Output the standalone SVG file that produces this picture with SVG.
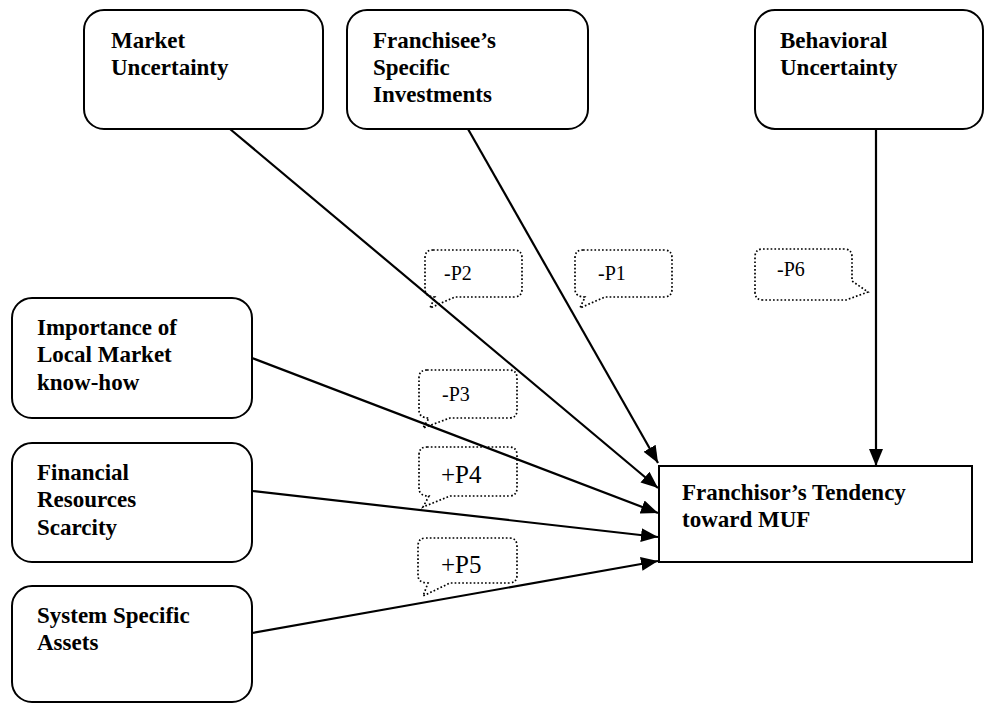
<svg xmlns="http://www.w3.org/2000/svg" width="985" height="704" viewBox="0 0 985 704">
<defs>
<style>
.node{fill:#fff;stroke:#000;stroke-width:2}
.lbl{font-family:"Liberation Serif","Times New Roman","DejaVu Serif",serif;font-weight:bold;font-size:23px;fill:#000}
.edge{stroke:#000;stroke-width:2.2;fill:none}
.call{fill:none;stroke:#000;stroke-width:1.7;stroke-dasharray:1.7 2.1}
.ct{font-family:"Liberation Serif","Times New Roman","DejaVu Serif",serif;font-size:20px;fill:#000}
.ct2{font-family:"Liberation Serif","Times New Roman","DejaVu Serif",serif;font-size:25px;fill:#000}
</style>
<marker id="arr" markerUnits="userSpaceOnUse" markerWidth="18" markerHeight="15" refX="17" refY="7" orient="auto" viewBox="0 0 18 14">
<path d="M0,0 L17,7 L0,14 Z" fill="#000"/>
</marker>
</defs>
<rect width="985" height="704" fill="#fff"/>

<g id="market">
<rect class="node" x="84" y="10" width="239" height="119" rx="20"/>
<text class="lbl" x="111" y="48">Market</text>
<text class="lbl" x="111" y="75">Uncertainty</text>
</g>
<g id="franchisee">
<rect class="node" x="347" y="10" width="241" height="119" rx="20"/>
<text class="lbl" x="373" y="48">Franchisee’s</text>
<text class="lbl" x="373" y="75">Specific</text>
<text class="lbl" x="373" y="102">Investments</text>
</g>
<g id="behavioral">
<rect class="node" x="755" y="10" width="228" height="119" rx="20"/>
<text class="lbl" x="780" y="48">Behavioral</text>
<text class="lbl" x="780" y="75">Uncertainty</text>
</g>
<g id="importance">
<rect class="node" x="12" y="298" width="240" height="120" rx="20"/>
<text class="lbl" x="37" y="335">Importance of</text>
<text class="lbl" x="37" y="362">Local Market</text>
<text class="lbl" x="37" y="390">know-how</text>
</g>
<g id="financial">
<rect class="node" x="12" y="443" width="240" height="119" rx="20"/>
<text class="lbl" x="37" y="480">Financial</text>
<text class="lbl" x="37" y="507">Resources</text>
<text class="lbl" x="37" y="535">Scarcity</text>
</g>
<g id="system">
<rect class="node" x="12" y="586" width="240" height="116" rx="20"/>
<text class="lbl" x="37" y="623">System Specific</text>
<text class="lbl" x="37" y="650">Assets</text>
</g>
<g id="franchisor">
<rect class="node" x="659" y="466" width="313" height="96"/>
<text class="lbl" x="682" y="500">Franchisor’s Tendency</text>
<text class="lbl" x="682" y="527">toward MUF</text>
</g>

<g id="callouts">
<g id="cP2">
<path class="call" d="M433,250 H514 Q522,250 522,258 V289 Q522,297 514,297 H455 L430,308 L435,297 Q425,297 425,289 V258 Q425,250 433,250 Z"/>
<text class="ct" x="444" y="280">-P2</text>
</g>
<g id="cP1">
<path class="call" d="M583,250 H664 Q672,250 672,258 V289 Q672,297 664,297 H605 L580,308 L585,297 Q575,297 575,289 V258 Q575,250 583,250 Z"/>
<text class="ct" x="598" y="280">-P1</text>
</g>
<g id="cP6">
<path class="call" d="M763,249 H844 Q852,249 852,257 V281 L868,292 L846,300 H763 Q755,300 755,292 V257 Q755,249 763,249 Z"/>
<text class="ct" x="777" y="276">-P6</text>
</g>
<g id="cP3">
<path class="call" d="M427,370 H509 Q517,370 517,378 V410 Q517,418 509,418 H450 L423,428 L429,418 Q419,418 419,410 V378 Q419,370 427,370 Z"/>
<text class="ct" x="442" y="401">-P3</text>
</g>
<g id="cP4">
<path class="call" d="M427,447 H509 Q517,447 517,455 V488 Q517,496 509,496 H450 L423,507 L429,496 Q419,496 419,488 V455 Q419,447 427,447 Z"/>
<text class="ct2" x="441" y="483">+P4</text>
</g>
<g id="cP5">
<path class="call" d="M426,538 H509 Q517,538 517,546 V575 Q517,583 509,583 H450 L423,596 L428,583 Q418,583 418,575 V546 Q418,538 426,538 Z"/>
<text class="ct2" x="441" y="573">+P5</text>
</g>
</g>

<g id="connectors">
<line class="edge" x1="230" y1="129" x2="658" y2="488" marker-end="url(#arr)"/>
<line class="edge" x1="468" y1="129" x2="658" y2="463" marker-end="url(#arr)"/>
<line class="edge" x1="876" y1="129" x2="876" y2="466" marker-end="url(#arr)"/>
<line class="edge" x1="252" y1="358" x2="658" y2="513" marker-end="url(#arr)"/>
<line class="edge" x1="252" y1="491" x2="658" y2="537" marker-end="url(#arr)"/>
<line class="edge" x1="252" y1="633" x2="658" y2="561" marker-end="url(#arr)"/>
</g>
</svg>
